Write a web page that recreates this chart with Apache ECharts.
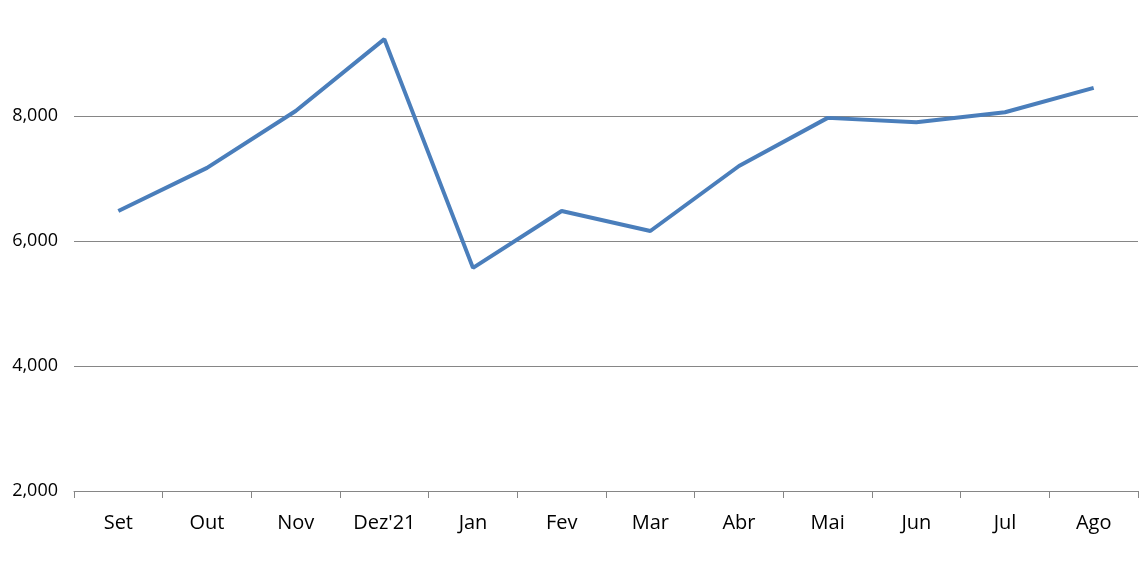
<!DOCTYPE html>
<html>
<head>
<meta charset="utf-8">
<script src="https://cdn.jsdelivr.net/npm/echarts@6/dist/echarts.min.js"></script>
<style>
  html, body { margin: 0; padding: 0; background: #fff; }
  #main { width: 1140px; height: 570px; }
</style>
</head>
<body>
<div id="main"></div>
<script>
const months = ['Set', 'Out', 'Nov', "Dez'21", 'Jan', 'Fev', 'Mar', 'Abr', 'Mai', 'Jun', 'Jul', 'Ago']
const values = [6480, 7170, 8080, 9230, 5570, 6480, 6160, 7200, 7970, 7900, 8060, 8450]

var myChart = echarts.init(document.getElementById('main'))
const option = {
  animation: false,
  grid: { left: 74, right: 2, top: -9, bottom: 79, outerBoundsMode: 'none', containLabel: false },
  xAxis: {
    type: 'category',
    data: months,
    boundaryGap: true,
    axisLine: { lineStyle: { color: '#868686', width: 1 } },
    axisTick: { show: true, length: 7, lineStyle: { color: '#868686' } },
    axisLabel: { color: '#000', fontSize: 20, fontFamily: 'Open Sans', margin: 22 }
  },
  yAxis: {
    type: 'value',
    min: 2000,
    max: 10000,
    interval: 2000,
    axisLine: { show: false },
    axisTick: { show: false },
    splitLine: { lineStyle: { color: '#868686', width: 1 } },
    axisLabel: {
      color: '#000', fontSize: 18, fontFamily: 'Open Sans', margin: 16,
      formatter: function (v) { return v.toLocaleString('en-US') }
    }
  },
  series: [
    {
      type: 'line',
      data: values,
      symbol: 'none',
      lineStyle: { color: '#4a7ebb', width: 4 },
      itemStyle: { color: '#4a7ebb' }
    }
  ]
}
myChart.setOption(option)
</script>
</body>
</html>
